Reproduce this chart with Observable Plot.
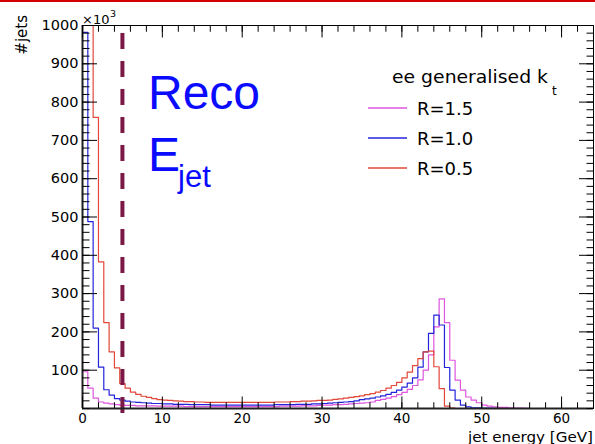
<!DOCTYPE html>
<html><head><meta charset="utf-8">
<script src="https://cdn.jsdelivr.net/npm/d3@7"></script>
<script src="https://cdn.jsdelivr.net/npm/@observablehq/plot@0.6"></script>
<style>
html,body{margin:0;padding:0;background:#fff;}
#wrap{position:relative;width:595px;height:444px;overflow:hidden;}
#topline{position:absolute;left:0;top:0;width:595px;height:2px;background:#d40000;}
</style></head><body>
<div id="wrap"><div id="chart"></div><div id="topline"></div></div>
<script>
// Histogram definition: 96 bins from 0 to 64 GeV
const nBins = 96, xMin = 0, xMax = 64;
const cutEnergy = 5;

const seriesNames = ["R=1.5", "R=1.0", "R=0.5"];
const seriesColors = ["#de55de", "#2323dc", "#e2473a"];
const legendTitle = "ee generalised k";
const legendTitleSub = "t";

// #jets (x10^3) per bin
const jetsR15 = [
  96, 53, 27, 17, 14, 12, 10, 9, 8, 8, 7, 7, 7, 7, 6, 6,
  6, 6, 6, 5, 5, 5, 5, 5, 5, 5, 5, 5, 5, 5, 5, 5,
  5, 5, 5, 5, 5, 6, 6, 6, 6, 7, 7, 7, 8,
  9, 9, 10, 10, 11, 12, 13, 14, 15, 17, 21, 24, 27, 31, 36, 42, 50, 60, 75,
  100, 140, 213, 286, 224, 126, 74, 48,
  30, 22, 15, 9, 6, 4, 3, 3, 2, 1, 1, 0.5, 0, 0, 0, 0, 0, 0, 0, 0, 0, 0, 0, 0
];
const jetsR10 = [
  982, 488, 210, 108, 49, 35, 26, 22, 19, 17, 16, 15, 14, 13, 13, 12,
  12, 11, 11, 11, 10, 10, 10, 10, 9, 9, 9, 9, 9, 9, 9, 9,
  9, 9, 9, 9, 10, 10, 10, 10, 11, 11, 11, 12, 12,
  13, 14, 15, 16, 17, 18, 20, 23, 25, 27, 30, 33, 37, 42, 48, 56, 66, 80, 108,
  148, 196, 244, 218, 107, 48, 22, 9,
  4, 2, 2, 1, 1, 0.5, 0, 0, 0, 0, 0, 0, 0, 0, 0, 0, 0, 0, 0, 0, 0, 0, 0, 0
];
const jetsR05 = [
  1200, 1200, 760, 383, 224, 148, 106, 65, 53, 43, 37, 32, 29, 26, 23, 22,
  21, 20, 19, 18, 18, 17, 17, 16, 16, 16, 16, 16, 16, 16, 16, 16,
  16, 16, 16, 16, 17, 17, 17, 18, 18, 19, 19, 20, 21,
  21, 22, 24, 25, 27, 29, 31, 33, 36, 39, 43, 47, 53, 60, 68, 80, 95, 112, 130,
  148, 150, 109, 52, 6, 1, 0, 0,
  0, 0, 0, 0, 0, 0, 0, 0, 0, 0, 0, 0, 0, 0, 0, 0, 0, 0, 0, 0, 0, 0, 0, 0
];

const xTickLabels = [0, 10, 20, 30, 40, 50, 60];
const yTickLabels = [100, 200, 300, 400, 500, 600, 700, 800, 900, 1000];
const xMinorTicks = d3.range(0, 65, 2);
const yMinorTicks = d3.range(0, 1001, 20);

const binW = (xMax - xMin) / nBins;
function steps(vals, name) {
  const pts = vals.map((v, i) => ({x: xMin + i * binW, y: v, s: name}));
  pts.push({x: xMax, y: vals[vals.length - 1], s: name});
  return pts;
}
const allSeries = [jetsR15, jetsR10, jetsR05];

const font = "DejaVu Sans, sans-serif";
const noText = () => "";

const chart = Plot.plot({
  width: 595, height: 444,
  marginLeft: 82, marginRight: 2, marginTop: 25, marginBottom: 36,
  style: {fontFamily: font, fontSize: "14.5px", background: "white", color: "black"},
  x: {domain: [xMin, xMax]},
  y: {domain: [0, 1000]},
  marks: [
    ...allSeries.map((vals, i) => Plot.line(steps(vals, seriesNames[i]), {
      x: "x", y: "y", curve: "step-after", stroke: seriesColors[i], strokeWidth: 1.2, clip: true
    })),
    Plot.ruleX([cutEnergy], {y1: 979, y2: -15, stroke: "#7a1846", strokeWidth: 4, strokeDasharray: "16,12"}),
    Plot.frame({stroke: "black", strokeWidth: 1}),
    Plot.ruleX([xMin], {stroke: "#222", strokeWidth: 2}),
    Plot.ruleY([0], {stroke: "#222", strokeWidth: 2}),
    Plot.axisX(xMinorTicks, {anchor: "bottom", tickSize: -5.75, tickFormat: noText, label: null}),
    Plot.axisX(xTickLabels, {anchor: "bottom", tickSize: -11.5, tickFormat: noText, label: null}),
    Plot.axisX(xMinorTicks, {anchor: "top", tickSize: -5.75, tickFormat: noText, label: null}),
    Plot.axisX(xTickLabels, {anchor: "top", tickSize: -11.5, tickFormat: noText, label: null}),
    Plot.axisY(yMinorTicks, {anchor: "left", tickSize: -7.5, tickFormat: noText, label: null}),
    Plot.axisY(yTickLabels, {anchor: "left", tickSize: -15, tickFormat: noText, label: null}),
    Plot.axisY(yMinorTicks, {anchor: "right", tickSize: -7.5, tickFormat: noText, label: null}),
    Plot.axisY(yTickLabels, {anchor: "right", tickSize: -15, tickFormat: noText, label: null}),
    Plot.axisX(xTickLabels, {anchor: "bottom", tickSize: 0, tickPadding: 5, fontSize: 13.5, tickFormat: d => String(d), label: null}),
    Plot.axisY(yTickLabels, {anchor: "left", tickSize: 0, tickPadding: 4, tickFormat: d => String(d), label: null})
  ]
});
document.getElementById("chart").appendChild(chart);

// annotations
const svg = d3.select(chart);
function note(txt, x, y, o = {}) {
  const t = svg.append("text").attr("x", x).attr("y", y)
    .attr("font-family", o.family || font).attr("font-size", o.size || 15)
    .attr("fill", o.fill || "black").attr("text-anchor", o.anchor || "start").text(txt);
  if (o.len) t.attr("textLength", o.len).attr("lengthAdjust", "spacingAndGlyphs");
  if (o.transform) t.attr("transform", o.transform);
  return t;
}
// y axis title
note("#jets", 0, 0, {size: 15, anchor: "end", transform: "translate(27,15) rotate(-90)"});
// exponent
note("\u00d710", 82, 24, {size: 13});
note("3", 110, 17, {size: 9.5});
// x axis title
note("jet energy [GeV]", 593, 442, {size: 14.5, anchor: "end", len: 125});
// big blue label
const big = "Liberation Sans, Arial, sans-serif";
note("Reco", 148, 109, {size: 48, fill: "#0a0aff", family: big});
note("E", 148, 171, {size: 48, fill: "#0a0aff", family: big});
note("jet", 178, 187, {size: 31, fill: "#0a0aff", family: big});
// legend
note(legendTitle, 392, 83, {size: 17, len: 156});
note(legendTitleSub, 552, 95, {size: 12});
const legendY = [108, 138, 168];
seriesNames.forEach((n, i) => {
  svg.append("line").attr("x1", 368).attr("x2", 407).attr("y1", legendY[i]).attr("y2", legendY[i])
    .attr("stroke", seriesColors[i]).attr("stroke-width", 1.5);
  note(n, 417, legendY[i] + 6.5, {size: 18});
});
</script>
</body></html>
